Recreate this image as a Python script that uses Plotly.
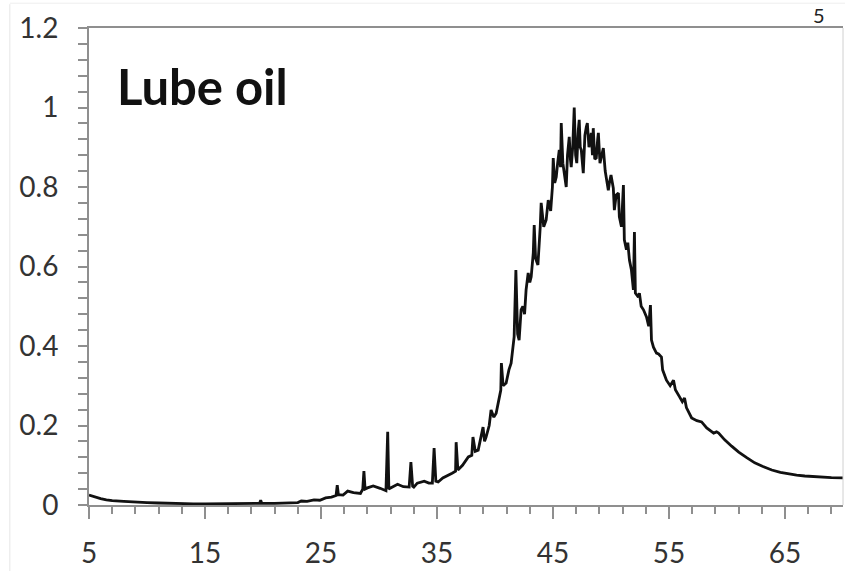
import plotly.graph_objects as go

# Retention time (min) and normalized signal
rt = [5.0, 5.5, 6.0, 6.5, 7.0, 8.0, 9.0, 10.0, 11.0, 12.0, 13.0, 14.0, 15.0, 16.0, 17.0, 18.0, 19.0,
      19.7, 19.8, 19.9, 21.0, 22.0, 23.0, 23.3, 23.8, 24.4, 24.9, 25.4, 25.9, 26.3, 26.4, 26.5, 26.9,
      27.3, 27.8, 28.4, 28.6, 28.7, 28.8, 29.0, 29.5, 30.1, 30.6, 30.75, 30.85, 31.0, 31.6, 32.1, 32.6,
      32.75, 32.9, 33.0, 33.3, 33.9, 34.3, 34.6, 34.75, 34.9, 35.1, 35.5, 35.9, 36.3, 36.6, 36.65, 36.8,
      37.2, 37.7, 38.0, 38.1, 38.3, 38.55, 38.97, 39.1, 39.23, 39.5, 39.66, 39.9, 40.1, 40.3, 40.5, 40.55,
      40.7, 40.96, 41.2, 41.39, 41.6, 41.65, 41.8, 41.95, 42.08, 42.25, 42.4, 42.55, 42.68, 42.86, 43.0,
      43.12, 43.3, 43.38, 43.5, 43.7, 43.9, 43.98, 44.2, 44.41, 44.59, 44.8, 44.95, 45.02, 45.15, 45.28,
      45.4, 45.54, 45.65, 45.71, 45.85, 46.0, 46.14, 46.25, 46.4, 46.5, 46.57, 46.7, 46.83, 46.95, 47.05,
      47.18, 47.26, 47.35, 47.44, 47.61, 47.75, 47.87, 47.96, 48.1, 48.3, 48.4, 48.47, 48.6, 48.73, 48.85,
      48.91, 49.05, 49.17, 49.34, 49.5, 49.6, 49.77, 49.86, 50.0, 50.2, 50.29, 50.45, 50.64, 50.72, 50.9,
      51.07, 51.15, 51.33, 51.45, 51.59, 51.76, 51.93, 52.02, 52.1, 52.36, 52.45, 52.6, 52.8, 53.06,
      53.25, 53.4, 53.49, 53.66, 53.92, 54.1, 54.35, 54.45, 54.78, 55.1, 55.39, 55.55, 55.91, 56.15,
      56.34, 56.5, 56.95, 57.4, 57.81, 58.25, 58.85, 59.1, 59.28, 59.8, 60.4, 61.01, 61.7, 62.39, 63.1,
      63.86, 64.6, 65.33, 66.0, 66.71, 67.5, 68.18, 69.0, 70.0]
signal = [0.025, 0.020, 0.016, 0.013, 0.011, 0.009, 0.007, 0.006, 0.005, 0.004, 0.004, 0.003, 0.003, 0.003, 0.003, 0.003, 0.003,
          0.004, 0.012, 0.004, 0.004, 0.005, 0.006, 0.010, 0.009, 0.013, 0.012, 0.018, 0.020, 0.024, 0.050, 0.026, 0.025,
          0.035, 0.031, 0.029, 0.040, 0.085, 0.040, 0.043, 0.048, 0.042, 0.036, 0.184, 0.040, 0.043, 0.052, 0.046, 0.045,
          0.108, 0.047, 0.045, 0.055, 0.060, 0.055, 0.055, 0.143, 0.060, 0.058, 0.068, 0.075, 0.080, 0.085, 0.158, 0.088,
          0.100, 0.121, 0.125, 0.171, 0.135, 0.138, 0.196, 0.160, 0.171, 0.200, 0.239, 0.221, 0.231, 0.260, 0.289, 0.357,
          0.300, 0.307, 0.340, 0.357, 0.420, 0.423, 0.591, 0.430, 0.415, 0.491, 0.500, 0.480, 0.541, 0.584, 0.560,
          0.574, 0.634, 0.704, 0.620, 0.604, 0.700, 0.760, 0.700, 0.717, 0.767, 0.740, 0.800, 0.873, 0.810, 0.825,
          0.860, 0.893, 0.850, 0.961, 0.860, 0.820, 0.800, 0.880, 0.926, 0.870, 0.850, 0.900, 1.000, 0.880, 0.860,
          0.943, 0.969, 0.900, 0.893, 0.835, 0.930, 0.951, 0.961, 0.900, 0.936, 0.880, 0.948, 0.870, 0.873, 0.920,
          0.936, 0.860, 0.875, 0.898, 0.840, 0.818, 0.792, 0.810, 0.830, 0.797, 0.742, 0.780, 0.785, 0.725, 0.700,
          0.805, 0.667, 0.642, 0.660, 0.616, 0.591, 0.541, 0.687, 0.533, 0.523, 0.533, 0.500, 0.491, 0.473,
          0.450, 0.503, 0.415, 0.397, 0.382, 0.380, 0.372, 0.340, 0.314, 0.300, 0.314, 0.290, 0.272, 0.260,
          0.269, 0.245, 0.219, 0.212, 0.209, 0.194, 0.181, 0.184, 0.181, 0.164, 0.148, 0.133, 0.119, 0.106, 0.097,
          0.088, 0.082, 0.078, 0.075, 0.073, 0.071, 0.070, 0.069, 0.068]

x_ticks = [5, 15, 25, 35, 45, 55, 65]
y_ticks = [0, 0.2, 0.4, 0.6, 0.8, 1.0, 1.2]
y_tick_labels = ["0", "0.2", "0.4", "0.6", "0.8", "1", "1.2"]
label = "Lube oil"

fig = go.Figure()
fig.add_trace(go.Scatter(x=rt, y=signal, mode="lines",
                         line=dict(color="#111111", width=2.8), showlegend=False,
                         hoverinfo="skip"))

axis_gray = "#8f8f8f"
fig.update_layout(
    width=845, height=571,
    margin=dict(l=89, r=2, t=28, b=66),
    paper_bgcolor="white", plot_bgcolor="white",
    font=dict(family="Lato, 'Open Sans', sans-serif", size=28, color="#333333"),
    xaxis=dict(range=[5, 70], tickvals=x_ticks, ticktext=[str(v) for v in x_ticks],
               showgrid=False, zeroline=False, showline=True, linecolor=axis_gray, linewidth=2,
               mirror=True, ticks="outside", ticklen=12, tickwidth=2, tickcolor=axis_gray,
               ticklabelstandoff=10,
               minor=dict(tickvals=[7, 9, 11, 13, 17, 19, 21, 23, 27, 29, 31, 33, 37, 39, 41, 43,
                                    47, 49, 51, 53, 57, 59, 61, 63, 67, 69],
                          ticks="outside", ticklen=7, tickwidth=2, tickcolor=axis_gray)),
    yaxis=dict(range=[0, 1.2], tickvals=y_ticks, ticktext=y_tick_labels,
               showgrid=False, zeroline=False, showline=True, linecolor=axis_gray, linewidth=2,
               ticks="outside", ticklen=9, tickwidth=2, tickcolor=axis_gray,
               ticklabelstandoff=14,
               minor=dict(dtick=0.04, tick0=0, ticks="outside", ticklen=9, tickwidth=2,
                          tickcolor=axis_gray)),
)

fig.add_annotation(text=f"<b>{label}</b>", xref="paper", yref="y", x=0.034, y=1.055,
                   xanchor="left", yanchor="middle", showarrow=False,
                   font=dict(family="Lato, 'Open Sans', sans-serif", size=49, color="#111111"))
# cropped page number remnant at top right
fig.add_annotation(text="5", xref="paper", yref="paper", x=0.968, y=1.027,
                   xanchor="center", yanchor="middle", showarrow=False,
                   font=dict(family="Lato, sans-serif", size=20, color="#222222"))
# right border (faint)
fig.add_shape(type="line", xref="paper", yref="paper", x0=1, x1=1, y0=0, y1=1,
              line=dict(color="#d0d0d0", width=1))
# image frame remnants
fig.add_shape(type="line", xref="paper", yref="paper", x0=-0.105, x1=-0.105, y0=-0.14, y1=1.05,
              line=dict(color="#e6e6e6", width=1))
fig.add_shape(type="line", xref="paper", yref="paper", x0=-0.105, x1=1.003, y0=1.052, y1=1.052,
              line=dict(color="#eeeeee", width=1))

fig.write_html("out.html")
